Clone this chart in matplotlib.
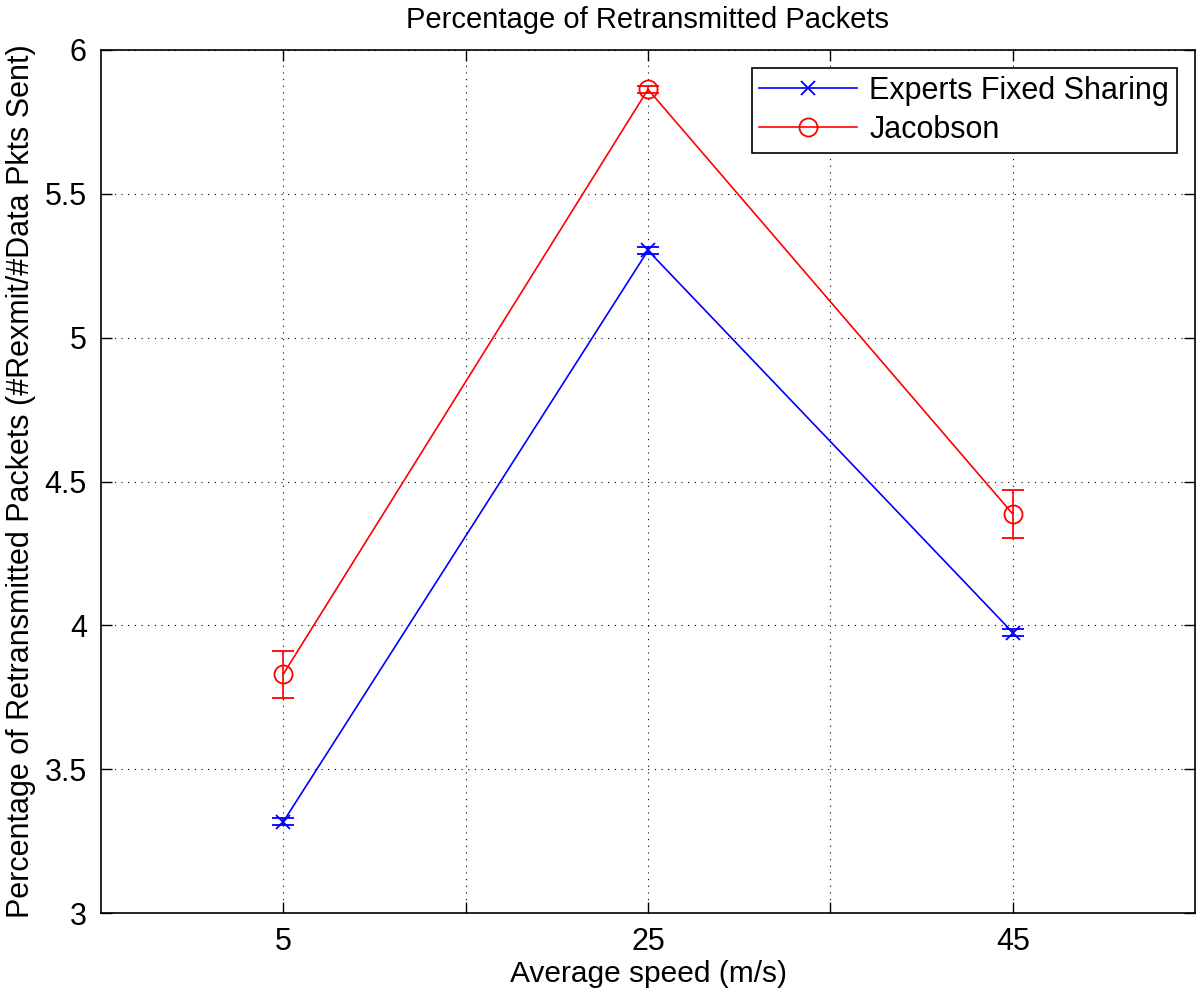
import numpy as np
import matplotlib.pyplot as plt
from matplotlib.lines import Line2D

plt.rcParams['font.family'] = ['Liberation Sans', 'DejaVu Sans']

speeds = [5, 25, 45]
experts = [3.317, 5.303, 3.975]
experts_err = [0.012, 0.012, 0.012]
jacobson = [3.830, 5.863, 4.387]
jacobson_err = [0.082, 0.012, 0.082]

fig = plt.figure(figsize=(12, 9.99), dpi=100)
ax = fig.add_axes([0.084, 0.086, 0.912, 0.864])

ax.errorbar(speeds, experts, yerr=experts_err, color='blue', marker='x',
            markersize=10, markeredgewidth=1.3, linewidth=1.2, capsize=8,
            capthick=1.3)
ax.errorbar(speeds, jacobson, yerr=jacobson_err, color='red', marker='o',
            markerfacecolor='none', markersize=13, markeredgewidth=1.3,
            linewidth=1.2, capsize=8, capthick=1.3)

ax.set_xlim(-5, 55)
ax.set_ylim(3, 6)
ax.set_xticks([5, 15, 25, 35, 45])
ax.set_xticklabels(['5', '', '25', '', '45'])
ax.set_yticks([3, 3.5, 4, 4.5, 5, 5.5, 6])
ax.set_yticklabels(['3', '3.5', '4', '4.5', '5', '5.5', '6'])
ax.tick_params(direction='in', top=True, right=True, length=8, width=1,
               labelsize=22, pad=10)
ax.grid(True, linestyle=(0, (1, 5)), color='black', linewidth=0.8)
for s in ax.spines.values():
    s.set_linewidth(1.2)

ax.set_title('Percentage of Retransmitted Packets', fontsize=21, pad=16)
ax.set_xlabel('Average speed (m/s)', fontsize=21.5, labelpad=2)
ax.set_ylabel('Percentage of Retransmitted Packets (#Rexmit/#Data Pkts Sent)',
              fontsize=22, labelpad=6)

handles = [
    Line2D([], [], color='blue', marker='x', markersize=10,
           markeredgewidth=1.3, linewidth=1.2),
    Line2D([], [], color='red', marker='o', markerfacecolor='none',
           markersize=13, markeredgewidth=1.3, linewidth=1.2),
]
leg = ax.legend(handles, ['Experts Fixed Sharing', 'Jacobson'],
                loc='upper right', fontsize=22, fancybox=False,
                edgecolor='black', framealpha=1, borderaxespad=0.6,
                handlelength=3.2, handletextpad=0.4, labelspacing=0.3,
                borderpad=0.25)
leg.get_frame().set_linewidth(1.2)

fig.savefig('out.png', dpi=100)
